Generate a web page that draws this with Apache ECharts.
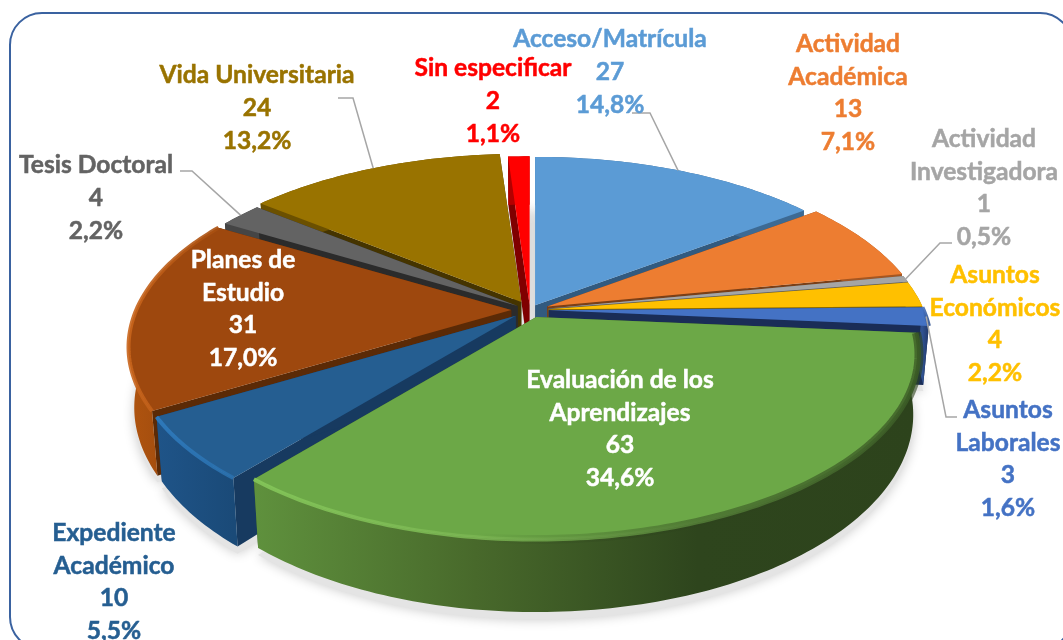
<!DOCTYPE html>
<html><head><meta charset="utf-8">
<style>html,body{margin:0;padding:0;background:#fff}#c{width:1063px;height:640px}</style>
<script src="https://cdn.jsdelivr.net/npm/echarts@6/dist/echarts.min.js"></script>
</head><body><div id="c"></div>
<script>
// ---- data ----
const categories = ['Acceso/Matrícula','Actividad\nAcadémica','Actividad\nInvestigadora','Asuntos\nEconómicos','Asuntos\nLaborales','Evaluación de los\nAprendizajes','Expediente\nAcadémico','Planes de\nEstudio','Tesis Doctoral','Vida Universitaria','Sin especificar'];
const values = [27,13,1,4,3,63,10,31,4,24,2];
// ---- styles ----
const topColors  = ['#5b9bd5','#ed7d31','#a5a5a5','#ffc000','#4472c4','#6ca847','#255e91','#9e480e','#636363','#997300','#ff0000'];
const textColors = ['#5b9bd5','#ed7d31','#a5a5a5','#ffc000','#4472c4','#ffffff','#255e91','#ffffff','#636363','#997300','#ff0000'];
const wallColors = ['#325a7f','#7a3f17','#5c5c5c','#8a6800','#1a2d57','#3b5e27','#173a60','#5b2a06','#2b2b2b','#453400','#7f0000'];
const sideColors = [['#3d6a94','#3d6a94'],['#a55621','#a55621'],['#737373','#737373'],['#b38600','#9c7500'],['#2f5190','#21386a'],['#5f913d','#48692b','#2e451d','#2d431c'],['#1f5488','#1a4a78'],['#b0540f','#8f430d'],['#454545','#454545'],['#6b5000','#6b5000'],['#b30000','#b30000']];
const bevelColors = [null,null,null,null,['#4472c4','#2f5190'],['#85c75a','#7ab552','#527c36','#3a5a25'],['#2f7cbf','#2a70ad'],['#c9651c','#a84f10'],null,null,null];
const softEdge = [null,null,null,null,null,['rgba(45,67,28,0)','rgba(45,67,28,0)','rgba(45,67,28,.45)','rgba(45,67,28,.6)'],null,null,null,null,null];
const explode = [.03,.05,.05,.05,.05,.043,.05,.05,.04,.05,.03];
const labelCenters = [[610,72],[848,93],[984,188],[995,324],[1008,459],[620,429],[114,582],[243,309],[96,198],[257,108],[493,101]];
const leaderElbows = [[[632,113],[650,113]],null,[[952,243],[940,243]],null,[[957,417],[946,417]],null,null,null,[[180,171],[192,171]],[[338,98],[353,98]],null];
const cx=530, cy=310, rx=375, ry=178, k=.2, depth=58;

const total = values.reduce((a,b)=>a+b,0);
const ends = []; values.reduce((a,b,i)=>(ends[i]=a+b),0);
const mids = values.map((v,i)=>((ends[i]-v/2)/total)*2*Math.PI);
const order = mids.map((a,i)=>[-Math.cos(a),i]).sort((p,q)=>p[0]-q[0]).map(p=>p[1]);

function gradient(cols,x0,x1){
  return new echarts.graphic.LinearGradient(x0,0,x1,0,cols.map((c,i)=>({offset:cols.length>1?i/(cols.length-1):0,color:c})),true);
}
function renderItem(params,api){
  const i=api.value(0), v=api.value(1);
  const a0=(ends[i]-v)/total*2*Math.PI, a1=ends[i]/total*2*Math.PI;
  const ox=cx+explode[i]*rx*Math.sin(mids[i]), oy=cy-explode[i]*ry*Math.cos(mids[i]);
  const P=(a,r,d)=>{const u=r*Math.sin(a),w=-r*Math.cos(a),s=1/(1-k*w);
    const f=d?0.985:1; return [ox+rx*u*s*f, oy+ry*w*s+d*s];};
  const n=Math.max(3,Math.ceil((a1-a0)/(Math.PI/180)));
  const arc=d=>{const o=[];for(let j=0;j<=n;j++)o.push(P(a0+(a1-a0)*j/n,1,d));return o;};
  const topArc=arc(0), botArc=arc(depth), apex=P(0,0,0), apexB=P(0,0,depth);
  const z=10+order.indexOf(i)*10, kids=[];
  const poly=(pts,style,z2)=>kids.push({type:'polygon',shape:{points:pts},style,z2,silent:true});
  // soft ground shadow
  poly([P(0,0,depth+6)].concat(arc(depth+6)),{fill:'#e4e4e4',shadowBlur:12,shadowColor:'rgba(0,0,0,.22)'},1);
  // radial walls
  poly([apex,topArc[0],botArc[0],apexB],{fill:wallColors[i]},z);
  poly([apex,topArc[n],botArc[n],apexB],{fill:wallColors[i]},z+1);
  // rim
  const xs=topArc.map(p=>p[0]), x0=Math.min.apply(null,xs), x1=Math.max.apply(null,xs);
  poly(topArc.concat(botArc.slice().reverse()),{fill:gradient(sideColors[i],x0,x1)},z+2);
  // top
  poly([apex].concat(topArc),{fill:topColors[i]},z+3);
  if(softEdge[i]) kids.push({type:'polyline',shape:{points:topArc},silent:true,z2:z+4,
    style:{fill:'none',stroke:gradient(softEdge[i],x0,x1),lineWidth:9}});
  if(bevelColors[i]) kids.push({type:'polyline',shape:{points:topArc},silent:true,z2:z+5,
    style:{fill:'none',stroke:gradient(bevelColors[i],x0,x1),lineWidth:4,opacity:.9}});
  // leader
  if(leaderElbows[i]){
    const e=P(mids[i],1,0);
    kids.push({type:'polyline',shape:{points:leaderElbows[i].concat([e])},silent:true,z2:300,
      style:{fill:'none',stroke:'#a6a6a6',lineWidth:1.5}});
  }
  // label
  const pct=(v/total*100).toFixed(1).replace('.',',');
  kids.push({type:'text',silent:true,z2:400,style:{
    text:categories[i]+'\n'+v+'\n'+pct+'%',x:labelCenters[i][0],y:labelCenters[i][1],
    align:'center',verticalAlign:'middle',fill:textColors[i],stroke:textColors[i],lineWidth:.5,
    fontFamily:'Lato',fontWeight:'bold',fontSize:24.6,lineHeight:32.8}});
  return {type:'group',children:kids};
}
const chart=echarts.init(document.getElementById('c'),null,{renderer:'canvas'});
chart.setOption({
  animation:false,
  backgroundColor:'#ffffff',
  graphic:{elements:[{type:'rect',shape:{x:10,y:13,width:1062,height:636,r:32},z:-1,silent:true,
    style:{fill:'none',stroke:'#3a62a0',lineWidth:2}}]},
  series:[{type:'custom',coordinateSystem:'none',clip:false,silent:true,renderItem,
    data:values.map((v,i)=>[i,v])}]
});
</script></body></html>
